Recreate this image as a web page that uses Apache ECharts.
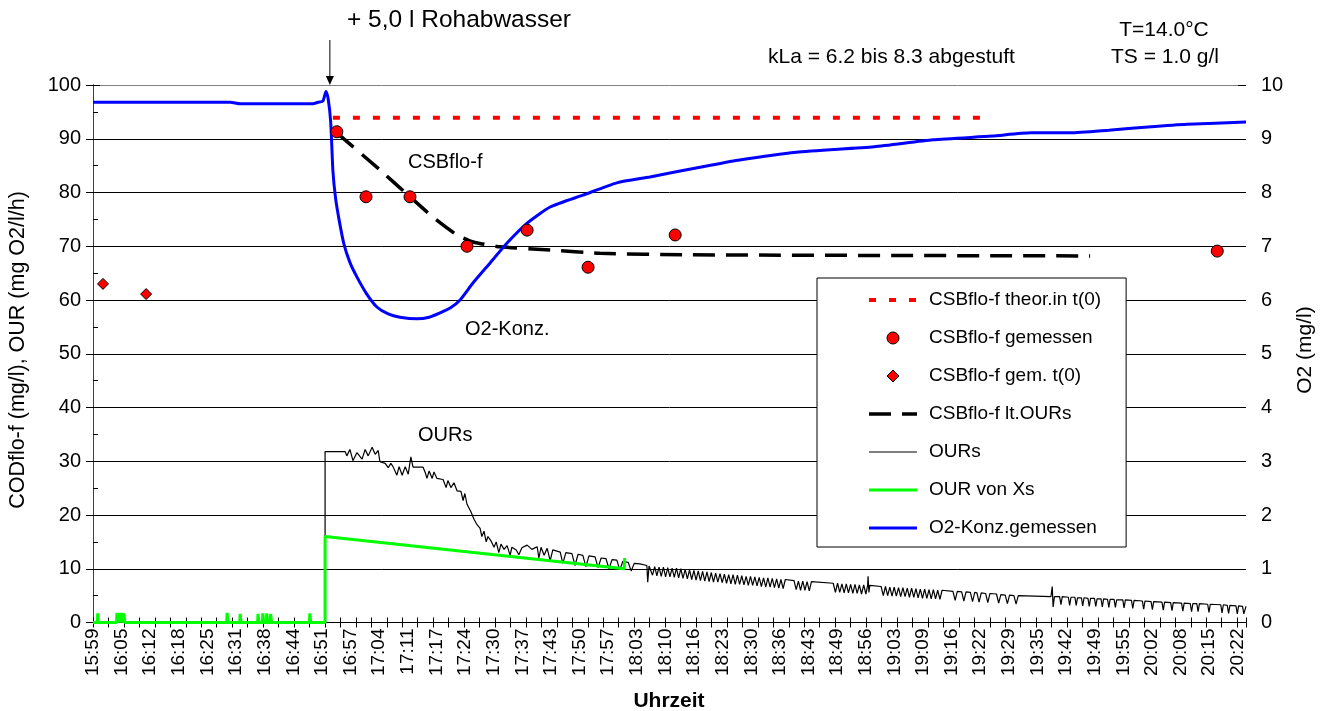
<!DOCTYPE html>
<html><head><meta charset="utf-8">
<script src="https://cdn.jsdelivr.net/npm/echarts@6/dist/echarts.min.js"></script>
<style>html,body{margin:0;padding:0;background:#fff}#c{width:1329px;height:711px}</style>
</head><body><div id="c"></div>
<script>
// x values are minutes after 15:59
const timeLabels = ['15:59','16:05','16:12','16:18','16:25','16:31','16:38','16:44','16:51','16:57','17:04','17:11','17:17','17:24','17:30','17:37','17:43','17:50','17:57','18:03','18:10','18:16','18:23','18:30','18:36','18:43','18:49','18:56','19:03','19:09','19:16','19:22','19:29','19:35','19:42','19:49','19:55','20:02','20:08','20:15','20:22'];
const additionTime = 54.4;
const theorCSB = [[55.1,93.9],[206.5,93.9]];
const csbMeasured = [[56.0,91.3],[62.7,79.2],[72.8,79.2],[85.9,70.0],[99.7,73.0],[113.7,66.1],[133.7,72.1],[258.2,69.1]];
const csbT0 = [[2.3,63.0],[12.2,61.1]];
const csbFromOURs = [[56.0,91.1],[65.9,84.2],[72.8,79.2],[78.1,75.4],[83.6,72.1],[87.3,70.8],[93.5,69.9],[105.0,69.3],[116.4,68.7],[137.1,68.4],[229.0,68.2]];
const ours = [
[0,0],[53.3,0],[53.3,31.8],[57.9,31.8],[58.3,31.0],[59.0,32.2],[59.7,30.1],[60.6,31.6],[61.8,30.4],[62.5,32.2],[63.2,31.0],[64.1,32.6],[64.8,31.3],[65.5,32.0],[65.9,29.9],[67.1,29.6],[67.8,28.8],[68.4,29.6],[68.9,29.0],[69.8,27.4],[70.3,29.0],[71.0,27.4],[71.7,29.0],[72.4,27.6],[73.0,30.8],[73.5,28.9],[75.8,28.9],[76.3,27.9],[76.7,26.8],[77.2,28.2],[77.9,26.8],[78.3,28.0],[79.0,26.8],[80.4,26.6],[81.1,25.1],[81.5,26.4],[82.2,25.1],[82.9,26.0],[83.6,24.5],[84.5,24.4],[85.0,22.7],[85.4,24.0],[85.9,22.0],[86.8,20.6],[87.5,19.2],[88.2,18.2],[88.9,17.5],[89.3,16.0],[89.8,17.0],[90.3,15.0],[90.7,16.0],[91.4,15.2],[92.1,14.0],[92.6,15.0],[93.2,13.0],[93.7,14.6],[94.4,13.6],[95.1,14.3],[95.8,12.5],[96.2,14.0],[97.2,13.5],[97.8,12.6],[98.5,13.9],[99.7,14.4],[100.8,13.6],[102.0,14.1],[102.4,12.0],[102.9,14.0],[103.6,12.5],[104.3,13.8],[105.0,11.5],[105.6,13.5],[107.3,13.1],[107.9,11.0],[108.6,13.0],[110.0,12.8],[110.7,10.6],[111.4,12.7],[112.5,12.5],[113.2,10.4],[113.9,12.4],[115.3,12.2],[116.0,10.2],[116.7,12.0],[117.8,11.9],[118.5,10.0],[119.2,11.7],[120.3,11.6],[121.0,9.8],[121.7,11.4],[122.9,11.2],[123.6,9.6],[124.3,11.0],[125.6,10.9],[127.2,10.6],[127.4,7.5],[127.7,10.5],
[128.0,10.5],[128.5,8.8],[129.0,10.4],[129.5,8.7],[130.0,10.3],[130.5,8.6],[131.0,10.3],[131.5,8.5],[132.0,10.2],[132.5,8.5],[133.0,10.1],[133.5,8.4],[134.0,10.1],[134.5,8.3],[135.0,10.0],[135.5,8.2],[136.0,9.9],[136.5,8.1],[137.0,9.8],[137.5,8.0],[138.0,9.7],[138.5,7.9],[139.0,9.6],[139.5,7.8],[140.0,9.5],[140.5,7.7],[141.0,9.4],[141.5,7.6],[142.0,9.3],[142.5,7.5],[143.0,9.2],[143.5,7.5],[144.0,9.1],[144.5,7.4],[145.0,9.0],[145.5,7.3],[146.0,8.9],[146.5,7.2],[147.0,8.9],[147.5,7.1],[148.0,8.8],[148.5,7.1],[149.0,8.7],[149.5,7.0],[150.0,8.6],[150.5,6.9],[151.0,8.6],[151.5,6.9],[152.0,8.5],[152.5,6.8],[153.0,8.4],[153.5,6.7],[154.0,8.3],[154.5,6.6],[155.0,8.3],[155.5,6.6],[156.0,8.2],[156.5,6.5],[157.0,8.1],[157.5,6.4],[158.0,8.0],[158.5,6.3],[159.0,8.0],
[161.0,7.8],[161.5,6.1],[162.0,7.7],[162.5,6.0],[163.0,7.7],[163.5,6.0],[164.0,7.6],[164.5,5.9],[165.0,7.6],
[170.0,7.3],[170.5,5.6],[171.0,7.3],[171.5,5.6],[172.0,7.2],[172.5,5.5],[173.0,7.2],[173.5,5.5],[174.0,7.1],[174.5,5.4],[175.0,7.1],[175.5,5.4],[176.0,7.0],[176.5,5.3],[177.0,7.0],[177.5,5.3],[177.9,6.9],
[178.0,8.6],[178.2,5.6],[178.4,6.9],
[181.0,6.7],[181.5,5.0],[182.0,6.7],[182.5,5.0],[183.0,6.6],[183.5,4.9],[184.0,6.6],[184.5,4.9],[185.0,6.5],[185.5,4.8],[186.0,6.5],[186.5,4.8],[187.0,6.4],[187.5,4.7],[188.0,6.4],[188.5,4.7],[189.0,6.3],[189.5,4.6],[190.0,6.2],[190.5,4.5],[191.0,6.2],[191.5,4.5],[192.0,6.1],[192.5,4.4],[193.0,6.1],[193.5,4.4],[194.0,6.0],[194.5,4.3],[195.0,6.0],
[197.5,5.8],[198.0,4.1],[198.5,5.8],[199.5,5.7],[200.0,4.0],[200.5,5.7],[201.5,5.6],[202.0,3.9],[202.5,5.6],[203.0,5.5],[203.5,3.8],[204.0,5.5],[205.0,5.4],[205.5,3.7],[206.0,5.4],[207.5,5.3],[208.0,3.6],[208.5,5.2],[209.5,5.1],[210.0,3.5],[210.5,5.1],[211.5,5.0],[212.0,3.4],[212.5,5.0],
[220.0,4.8],[220.3,6.7],[220.5,2.9],[220.8,4.8],
[222.0,4.8],[222.3,3.3],[222.6,4.8],[224.0,4.7],[224.3,3.2],[224.6,4.7],[225.5,4.7],[225.8,3.2],[226.1,4.6],[227.0,4.6],[227.3,3.1],[227.6,4.6],[228.5,4.5],[228.8,3.0],[229.1,4.5],[230.0,4.5],[230.3,3.0],[230.6,4.4],[231.5,4.4],[231.8,2.9],[232.1,4.4],[233.0,4.3],[233.3,2.8],[233.6,4.3],[234.5,4.3],[234.8,2.8],[235.1,4.2],[236.5,4.2],[236.8,2.7],[237.1,4.2],[238.5,4.1],[238.8,2.6],[239.1,4.1],[241.0,4.0],[241.3,2.5],[241.6,4.0],[243.0,3.9],[243.3,2.4],[243.6,3.9],[245.5,3.8],[245.8,2.3],[246.1,3.8],[247.5,3.7],[247.8,2.2],[248.1,3.7],[250.0,3.6],[250.3,2.1],[250.6,3.6],[252.0,3.5],[252.3,2.0],[252.6,3.5],[253.5,3.5],[253.8,2.0],[254.1,3.5],[256.0,3.4],[256.3,1.9],[256.6,3.4],[259.0,3.3],[259.3,1.8],[259.6,3.3],[260.5,3.2],[260.8,1.7],[261.1,3.2],[262.5,3.1],[262.8,1.6],[263.1,3.1],[264.0,3.0],[264.3,1.6],[264.8,3.0]
];
const ourXs = [[0,0],[1.0,0],[1.1,1.7],[1.2,0],[5.4,0],[5.5,1.8],[5.7,0],[5.9,1.8],[6.1,0],[6.3,1.8],[6.5,0],[6.7,1.8],[6.9,0],[7.1,1.7],[7.3,0],[30.7,0],[30.8,1.8],[31.0,0],[33.7,0],[33.8,1.6],[34.0,0],[37.8,0],[37.9,1.6],[38.1,0],[38.9,0],[39.0,1.7],[39.2,0],[39.8,0],[39.9,1.7],[40.1,0],[40.7,0],[40.8,1.6],[41.0,0],[49.7,0],[49.8,1.7],[50.0,0],[53.3,0],[53.3,16.0],[122.0,10.0],[122.1,12.0]];
const o2 = [[0,9.68],[31.5,9.68],[33.8,9.65],[50.5,9.65],[51.7,9.68],[52.8,9.70],[53.5,9.88],[54.0,9.75],[54.6,9.3],[55.1,8.4],[55.7,7.9],[56.5,7.5],[57.6,7.05],[59.0,6.7],[60.6,6.43],[62.8,6.12],[65.2,5.87],[67.8,5.74],[70.5,5.68],[74.4,5.65],[77.2,5.68],[79.7,5.76],[82.2,5.86],[84.3,6.00],[87.3,6.32],[91.2,6.69],[95.1,7.06],[99.7,7.43],[105.0,7.73],[112.5,7.95],[120.3,8.18],[127.9,8.29],[139.4,8.47],[148.1,8.60],[161.5,8.75],[179.4,8.85],[192.9,8.98],[206.5,9.05],[215.4,9.11],[224.4,9.11],[233.3,9.16],[242.3,9.22],[251.3,9.27],[264.8,9.31]];

const FONT = "'Liberation Sans', Arial, sans-serif";
const X_MAX = 264.8, LABEL_STEP = 6.573, TICK_STEP = 3.551;
const chart = echarts.init(document.getElementById('c'), null, {renderer: 'canvas'});
const baseX = {type: 'value', min: 0, max: X_MAX, position: 'bottom', splitLine: {show: false}};
const gridColors = ['#000','#000','#000','#000','#000','#000','#000','#000','#000','#000','#808080'];
const hideSym = {opacity: 0};

chart.setOption({
  animation: false,
  backgroundColor: '#fff',
  textStyle: {fontFamily: FONT},
  grid: {left: 93, right: 83, top: 85, bottom: 88.5, outerBoundsMode: 'none', containLabel: false},
  xAxis: [
    Object.assign({}, baseX, {interval: LABEL_STEP,
      axisLine: {show: true, lineStyle: {color: '#000', width: 1}},
      axisTick: {show: false},
      axisLabel: {rotate: 90, fontSize: 19, color: '#000', fontFamily: FONT, margin: 6,
        formatter: function (v) { const k = v / LABEL_STEP; const r = Math.round(k); return (Math.abs(k - r) < 0.02 && timeLabels[r]) ? timeLabels[r] : ''; }}}),
    Object.assign({}, baseX, {interval: TICK_STEP, axisLine: {show: false},
      axisTick: {show: true, length: 5, lineStyle: {color: '#000'}}, axisLabel: {show: false}}),
    Object.assign({}, baseX, {interval: TICK_STEP, axisLine: {show: false},
      axisTick: {show: true, inside: true, length: 5, lineStyle: {color: '#000'}}, axisLabel: {show: false}})
  ],
  yAxis: [
    {type: 'value', min: 0, max: 100, interval: 10, position: 'left',
     axisLine: {show: true, lineStyle: {color: '#000'}},
     axisTick: {show: true, length: 7, lineStyle: {color: '#000'}},
     axisLabel: {fontSize: 20, color: '#000', fontFamily: FONT, margin: 12},
     splitLine: {show: true, lineStyle: {color: gridColors, width: 1}}},
    {type: 'value', min: 0, max: 10, interval: 1, position: 'right',
     axisLine: {show: true, lineStyle: {color: '#404040'}},
     axisTick: {show: true, length: 7, lineStyle: {color: '#000'}},
     axisLabel: {fontSize: 20, color: '#000', fontFamily: FONT, margin: 15},
     splitLine: {show: false}},
    {type: 'value', min: 0, max: 100, interval: 10, position: 'left',
     axisLine: {show: false},
     axisTick: {show: true, inside: true, length: 7, lineStyle: {color: '#000'}},
     minorTick: {show: true, splitNumber: 2, length: 5, lineStyle: {color: '#000'}},
     axisLabel: {show: false}, splitLine: {show: false}},
    {type: 'value', min: 0, max: 10, interval: 1, position: 'right',
     axisLine: {show: false},
     axisTick: {show: true, inside: true, length: 8, lineStyle: {color: '#000'}},
     axisLabel: {show: false}, splitLine: {show: false}}
  ],
  legend: {
    orient: 'vertical', left: 817, top: 278,
    padding: [12, 25, 9, 50],
    itemWidth: 48, itemHeight: 12, itemGap: 18,
    borderColor: '#000', borderWidth: 1, backgroundColor: '#fff',
    selectedMode: false,
    textStyle: {fontSize: 19, fontFamily: FONT, color: '#000', lineHeight: 20, padding: [0, 0, 0, 7]},
    lineStyle: {width: 'inherit'},
    itemStyle: {borderWidth: 'inherit'},
    data: [
      {name: 'CSBflo-f theor.in t(0)', itemStyle: hideSym},
      {name: 'CSBflo-f gemessen'},
      {name: 'CSBflo-f gem. t(0)', icon: 'path://M6,0L12,6L6,12L0,6Z'},
      {name: 'CSBflo-f lt.OURs', itemStyle: hideSym},
      {name: 'OURs', itemStyle: hideSym},
      {name: 'OUR von Xs', itemStyle: hideSym},
      {name: 'O2-Konz.gemessen', itemStyle: hideSym}
    ]
  },
  series: [
    {name: 'CSBflo-f theor.in t(0)', type: 'line', data: theorCSB, symbol: 'none', z: 3,
     lineStyle: {color: '#ff0000', width: 4, type: [7, 13]}, itemStyle: {color: '#ff0000'}},
    {name: 'CSBflo-f gemessen', type: 'scatter', data: csbMeasured, symbol: 'circle', symbolSize: 12, z: 8,
     itemStyle: {color: '#ff0000', borderColor: '#000', borderWidth: 1, opacity: 1}},
    {name: 'CSBflo-f gem. t(0)', type: 'scatter', data: csbT0, symbol: 'diamond', symbolSize: 11, z: 8,
     itemStyle: {color: '#ff0000', borderColor: '#000', borderWidth: 1, opacity: 1}},
    {name: 'CSBflo-f lt.OURs', type: 'line', data: csbFromOURs, symbol: 'none', smooth: 0.2, z: 4,
     lineStyle: {color: '#000', width: 3.5, type: [22, 11]}, itemStyle: {color: '#000'}},
    {name: 'OURs', type: 'line', data: ours, symbol: 'none', z: 3,
     lineStyle: {color: '#000', width: 1.2}, itemStyle: {color: '#000'}},
    {name: 'OUR von Xs', type: 'line', data: ourXs, symbol: 'none', z: 4,
     lineStyle: {color: '#00ff00', width: 3}, itemStyle: {color: '#00ff00'}},
    {name: 'O2-Konz.gemessen', type: 'line', yAxisIndex: 1, data: o2, symbol: 'none', smooth: 0.2, z: 5,
     lineStyle: {color: '#0000ff', width: 3}, itemStyle: {color: '#0000ff'}}
  ]
});

const ax = chart.convertToPixel({xAxisIndex: 0}, additionTime);
function txt(x, y, s, size, opts) {
  return Object.assign({type: 'text', x: x, y: y, z: 100,
    style: Object.assign({text: s, fill: '#000', font: size + 'px ' + FONT, textAlign: 'left', textVerticalAlign: 'middle', align: 'left', verticalAlign: 'middle'}, (opts && opts.style) || {})},
    (opts && opts.el) || {});
}
chart.setOption({
  graphic: [
    txt(347, 20, '+ 5,0 l Rohabwasser', 24.5),
    txt(768, 57, 'kLa = 6.2 bis 8.3 abgestuft', 21),
    txt(1164, 30, 'T=14.0°C', 21, {style: {textAlign: 'center', align: 'center'}}),
    txt(1165, 57, 'TS = 1.0 g/l', 21, {style: {textAlign: 'center', align: 'center'}}),
    txt(408, 162, 'CSBflo-f', 20),
    txt(465, 329, 'O2-Konz.', 20),
    txt(418, 435, 'OURs', 20),
    txt(669, 701, 'Uhrzeit', 21, {style: {textAlign: 'center', align: 'center', font: 'bold 21px ' + FONT}}),
    txt(18, 350, 'CODflo-f (mg/l), OUR (mg O2/l/h)', 21.5, {style: {textAlign: 'center', align: 'center'}, el: {rotation: Math.PI / 2}}),
    txt(1305, 350, 'O2 (mg/l)', 21, {style: {textAlign: 'center', align: 'center'}, el: {rotation: Math.PI / 2}}),
    {type: 'line', z: 100, shape: {x1: ax, y1: 40, x2: ax, y2: 78}, style: {stroke: '#000', lineWidth: 1}},
    {type: 'polygon', z: 100, shape: {points: [[ax - 4, 76], [ax + 4, 76], [ax, 85]]}, style: {fill: '#000'}}
  ]
});
</script>
</body></html>
